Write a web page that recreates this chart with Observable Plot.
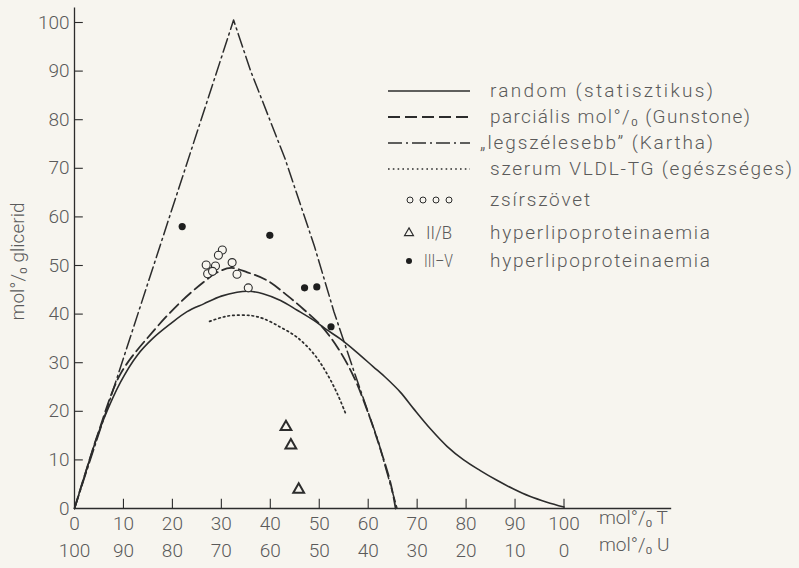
<!DOCTYPE html>
<html><head><meta charset="utf-8">
<script src="https://cdn.jsdelivr.net/npm/d3@7"></script>
<script src="https://cdn.jsdelivr.net/npm/@observablehq/plot@0.6"></script>
<style>
html,body{margin:0;padding:0;background:#f7f5ef;}
#chart{position:relative;width:799px;height:568px;}
</style></head><body><div id="chart"></div>
<script>
// ---- tick values / labels ----
const xTicks = [0,10,20,30,40,50,60,70,80,90,100];
const xLabelsT = xTicks.map(d => String(d));
const xLabelsU = xTicks.map(d => String(100 - d));
const yTicks = [0,10,20,30,40,50,60,70,80,90,100];
const xUnitT = "mol°/₀ T";
const xUnitU = "mol°/₀ U";
const yTitle = "mol°/₀ glicerid";

// ---- curves ----
const randomX = [0,2.6,4.6,6,9.4,12.8,16,19.6,23,26.4,30,33.2,35.5,38.5,42.1,45.5,48.9,51.5,54.3,57.5,61,63.5,66.6,69.3,72.7,76.1,79.5,82.9,86.3,89.7,93,96.5,100];
const randomY = [0,8.5,14.7,18.5,26,31.5,35,38,40.5,42.1,43.7,44.5,44.7,44.2,42.8,40.8,38.7,36.8,34.9,32.3,29.2,27.0,23.9,20.5,16.4,12.8,10.0,7.8,5.8,4.0,2.5,1.3,0.3];

const gunstoneX = [0,2.6,5,9.4,16.2,21.7,26.4,29,32,35.3,39.4,43.5,46.9,50.3,53.7,57.1,59.8,62.6,64.6,65.6];
const gunstoneY = [0,8.5,16,27.7,36.6,42.5,46.6,48.5,49.5,48.6,46.9,43.8,40.9,37.7,33.2,27.0,20.2,11.9,5.1,0];

const karthaX = [0,32.5,36,43,49,53,57,62,65.9];
const karthaY = [0,100.5,90,72,54,40.5,28.5,14,0];

const vldlX = [27.6,30,32,36,38.5,42.1,45.5,48.9,51.6,53.7,55.4];
const vldlY = [38.5,39.3,39.7,39.7,39.1,37.3,35.2,31.8,27.7,23.6,19.5];

// ---- measured points ----
const zsirX = [30.2,29.4,26.9,28.8,32.2,27.2,28.2,33.2,35.5];
const zsirY = [53.2,52.1,50.1,49.9,50.6,48.3,48.8,48.2,45.4];
const hlpIIBX = [43.2,44.2,45.8];
const hlpIIBY = [16.8,13.0,3.9];
const hlpIIIVX = [22.0,39.9,47.0,49.5,52.4];
const hlpIIIVY = [58.0,56.2,45.4,45.6,37.4];

// ---- legend texts ----
const legendLabels = [
  "random (statisztikus)",
  "parciális mol°/₀ (Gunstone)",
  "„legszélesebb” (Kartha)",
  "szerum VLDL-TG (egészséges)",
  "zsírszövet",
  "hyperlipoproteinaemia",
  "hyperlipoproteinaemia"
];
const legendTypes = ["II/B", "III–V"];

const pts = (xs, ys) => xs.map((x, i) => ({x, y: ys[i]}));

const ink = "#2c2c2c", textInk = "#5a5a5a", paper = "#f7f5ef";
const FS = 19;
const dashG = "12,5", dashK = "14,4,2,4", dashV = "1.6,3.2";

const plot = Plot.plot({
  width: 799, height: 568,
  marginLeft: 74, marginRight: 235.5, marginTop: 22, marginBottom: 60,
  x: {domain: [0, 100], axis: null},
  y: {domain: [0, 100], axis: null},
  style: {background: paper, fontFamily: "Roboto, 'DejaVu Sans', sans-serif", fontWeight: 300},
  marks: [
    // axes lines and ticks
    Plot.ruleX([0], {y1: 0, y2: 103, stroke: ink, strokeWidth: 1.3}),
    Plot.ruleY([0], {x1: 0, x2: 122, stroke: ink, strokeWidth: 1.3}),
    Plot.ruleY(yTicks.filter(d => d > 0), {y: d => d, x1: 0, x2: 1.8, stroke: ink, strokeWidth: 1.1}),
    Plot.ruleX(xTicks.filter(d => d > 0), {x: d => d, y1: 0, y2: 1.9, stroke: ink, strokeWidth: 1.1}),
    Plot.text(yTicks, {x: 0, y: d => d, text: d => String(d), textAnchor: "end", dx: -5, fontSize: FS, fill: textInk}),
    Plot.text(xTicks, {x: d => d, y: 0, text: (d, i) => xLabelsT[i], dy: 15, fontSize: FS, fill: textInk}),
    Plot.text(xTicks, {x: d => d, y: 0, text: (d, i) => xLabelsU[i], dy: 42, fontSize: FS, fill: textInk}),
    Plot.text([xUnitT], {frameAnchor: "bottom-right", textAnchor: "start", dx: 35, dy: 15, fontSize: FS, fill: textInk}),
    Plot.text([xUnitU], {frameAnchor: "bottom-right", textAnchor: "start", dx: 35, dy: 42, fontSize: FS, fill: textInk}),
    Plot.text([yTitle], {frameAnchor: "left", textAnchor: "middle", rotate: -90, dx: -57, dy: -4, fontSize: FS, fill: textInk}),
    // curves
    Plot.line(pts(randomX, randomY), {x: "x", y: "y", curve: "catmull-rom", stroke: ink, strokeWidth: 1.6}),
    Plot.line(pts(gunstoneX, gunstoneY), {x: "x", y: "y", curve: "catmull-rom", stroke: ink, strokeWidth: 1.8, strokeDasharray: dashG}),
    Plot.line(pts(karthaX, karthaY), {x: "x", y: "y", curve: "linear", stroke: ink, strokeWidth: 1.5, strokeDasharray: dashK}),
    Plot.line(pts(vldlX, vldlY), {x: "x", y: "y", curve: "catmull-rom", stroke: ink, strokeWidth: 1.7, strokeDasharray: dashV}),
    // points
    Plot.dot(pts(zsirX, zsirY), {x: "x", y: "y", r: 4, stroke: ink, fill: paper, strokeWidth: 1.1}),
    Plot.dot(pts(hlpIIIVX, hlpIIIVY), {x: "x", y: "y", r: 3.6, fill: "#1e1e1e"}),
    Plot.dot(pts(hlpIIBX, hlpIIBY), {x: "x", y: "y", symbol: "triangle", r: 4, stroke: ink, strokeWidth: 2, fill: "none"})
  ]
});

// ---- legend ----
const svg = d3.select(plot);
const lg = svg.append("g").attr("font-family", "Roboto, 'DejaVu Sans', sans-serif").attr("font-weight", 300)
  .attr("font-size", FS).attr("fill", textInk).attr("text-anchor", "start");
const rowY = [91, 117, 143, 169, 200, 233, 261];
const lineStyles = [
  {dash: null, w: 1.6},
  {dash: dashG, w: 1.8},
  {dash: dashK, w: 1.5},
  {dash: dashV, w: 1.7}
];
lineStyles.forEach((s, i) => {
  const l = lg.append("line").attr("x1", 388).attr("x2", 470).attr("y1", rowY[i]).attr("y2", rowY[i])
    .attr("stroke", ink).attr("stroke-width", s.w);
  if (s.dash) l.attr("stroke-dasharray", s.dash);
});
[410, 423, 436, 449].forEach(cx => {
  lg.append("circle").attr("cx", cx).attr("cy", rowY[4]).attr("r", 3).attr("fill", "none").attr("stroke", ink).attr("stroke-width", 1);
});
lg.append("path").attr("d", d3.symbol(d3.symbolTriangle, 34)()).attr("transform", `translate(409,${rowY[5]})`)
  .attr("fill", "none").attr("stroke", ink).attr("stroke-width", 1.2);
lg.append("circle").attr("cx", 409).attr("cy", rowY[6]).attr("r", 3).attr("fill", "#1e1e1e");

const textX = [490, 490, 480, 490, 490, 490, 490];
const textW = [223, 260, 233, 302, 100, 220, 220];
legendLabels.forEach((t, i) => {
  lg.append("text").attr("x", textX[i]).attr("y", rowY[i] + 6).attr("textLength", textW[i])
    .attr("lengthAdjust", "spacing").text(t);
});
lg.append("text").attr("x", 426).attr("y", rowY[5] + 6).attr("textLength", 26).attr("lengthAdjust", "spacingAndGlyphs").text(legendTypes[0]);
lg.append("text").attr("x", 424).attr("y", rowY[6] + 6).attr("textLength", 29).attr("lengthAdjust", "spacingAndGlyphs").text(legendTypes[1]);

document.getElementById("chart").appendChild(plot);
</script></body></html>
